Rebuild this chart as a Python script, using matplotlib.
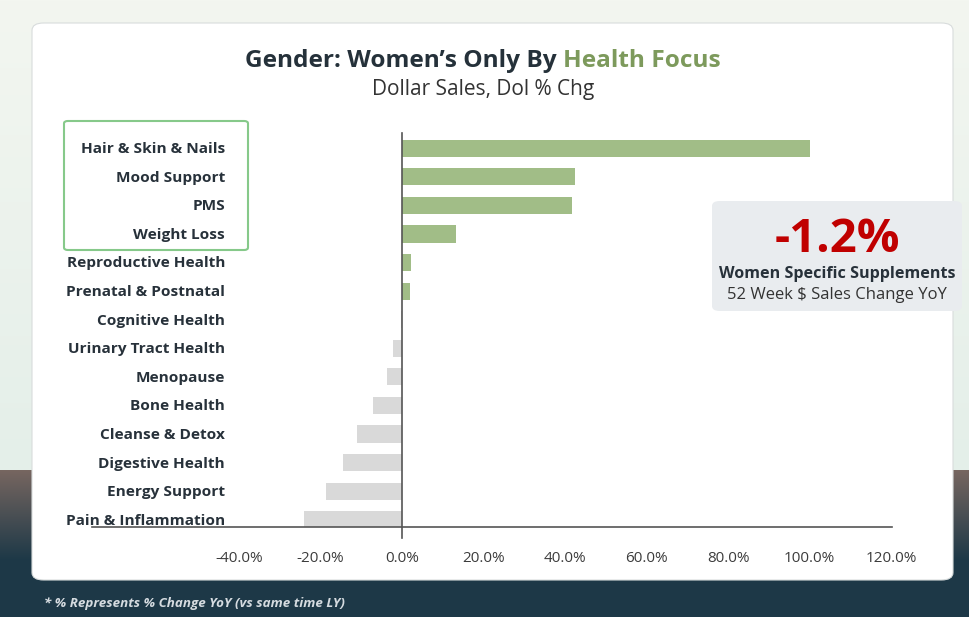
import matplotlib.pyplot as plt
import numpy as np
from matplotlib.patches import FancyBboxPatch

# data
categories = ["Hair & Skin & Nails", "Mood Support", "PMS", "Weight Loss",
              "Reproductive Health", "Prenatal & Postnatal", "Cognitive Health",
              "Urinary Tract Health", "Menopause", "Bone Health",
              "Cleanse & Detox", "Digestive Health", "Energy Support",
              "Pain & Inflammation"]
pct_change = [100.0, 42.5, 41.7, 13.2, 2.2, 2.0, -0.3,
              -2.3, -3.6, -7.2, -11.0, -14.4, -18.7, -24.0]
xticks = [-40, -20, 0, 20, 40, 60, 80, 100, 120]
headline = "-1.2%"

W, H = 969, 617
fx = lambda px: px / W
fy = lambda py: 1 - py / H

plt.rcParams['font.family'] = ['Open Sans', 'DejaVu Sans']
fig = plt.figure(figsize=(W / 100, H / 100), dpi=100)

# page background: light on top, dark band at the bottom
bg = fig.add_axes([0, 0, 1, 1], zorder=-10)
bg.set_axis_off()
grad = np.zeros((H, 1, 3))
top = np.array([0xf3, 0xf6, 0xf0]) / 255
top2 = np.array([0xe4, 0xef, 0xe9]) / 255
dark1 = np.array([0x76, 0x66, 0x60]) / 255
dark2 = np.array([0x1d, 0x38, 0x47]) / 255
split = 470
for r in range(H):
    if r < split:
        t = r / split
        grad[r, 0] = top * (1 - t) + top2 * t
    else:
        t = min(1, (r - split) / 90)
        grad[r, 0] = dark1 * (1 - t) + dark2 * t
bg.imshow(grad, aspect='auto', extent=[0, 1, 0, 1])
bg.set_xlim(0, 1)
bg.set_ylim(0, 1)

# white card
card = FancyBboxPatch((fx(32), fy(580)), fx(953) - fx(32), fy(23) - fy(580),
                      boxstyle="round,pad=0,rounding_size=0.012",
                      transform=fig.transFigure, facecolor='white',
                      edgecolor='#d8dcdc', lw=0.8, zorder=-5)
fig.patches.append(card)

# main chart
xmin, xmax = -76, 120.25
zero_px, per_pct = 402, 4.075
left_px = zero_px + xmin * per_pct
right_px = zero_px + xmax * per_pct
ax = fig.add_axes([fx(left_px), fy(527), fx(right_px) - fx(left_px), fy(133) - fy(527)])
ax.patch.set_alpha(0)
y = np.arange(len(categories))
colors = ['#a1bd87' if v > 0 else '#d9d9d9' for v in pct_change]
ax.barh(y, pct_change, height=0.6, color=colors, zorder=2)
ax.set_xlim(xmin, xmax)
ax.set_ylim(len(categories) - 0.75, -0.53)
for s in ['top', 'right', 'left']:
    ax.spines[s].set_visible(False)
ax.spines['bottom'].set_color('#555555')
ax.spines['bottom'].set_linewidth(1.2)
ax.plot([0, 0], [-0.53, len(categories) - 0.35], color='#555555', lw=1.2,
        clip_on=False, zorder=3)
ax.set_yticks([])
ax.set_xticks(xticks)
ax.set_xticklabels([f"{v:.1f}%" for v in xticks])
ax.tick_params(axis='x', length=0, pad=17, labelsize=11, labelcolor='#3c3c3c')

label_x = (225 - zero_px) / per_pct
for i, name in enumerate(categories):
    ax.text(label_x, i + 0.03, name, ha='right', va='center', fontsize=11.1,
            fontweight='bold', color='#27313a')

# highlight box around the top four labels
hl = FancyBboxPatch((fx(64), fy(250)), fx(248) - fx(64), fy(121) - fy(250),
                    boxstyle="round,pad=0,rounding_size=0.004",
                    transform=fig.transFigure, facecolor='none',
                    edgecolor='#86c98a', lw=1.5, zorder=5)
fig.patches.append(hl)

# title with two colours
fig.canvas.draw()
r = fig.canvas.get_renderer()
t1 = fig.text(0, fy(61), "Gender: Women’s Only By ", fontsize=17.6, fontweight='bold',
              color='#25313a', va='center', ha='left')
t2 = fig.text(0, fy(61), "Health Focus", fontsize=17.6, fontweight='bold',
              color='#7d9a5c', va='center', ha='left')
w1 = t1.get_window_extent(r).width
w2 = t2.get_window_extent(r).width
start = 483 - (w1 + w2) / 2
t1.set_x(fx(start))
t2.set_x(fx(start + w1))
fig.text(fx(483), fy(90), "Dollar Sales, Dol % Chg", fontsize=15, color='#333333',
         ha='center', va='center')

# callout box
cb = FancyBboxPatch((fx(712), fy(311)), fx(962) - fx(712), fy(201) - fy(311),
                    boxstyle="round,pad=0,rounding_size=0.008",
                    transform=fig.transFigure, facecolor='#e9ecef',
                    edgecolor='none', zorder=5)
fig.patches.append(cb)
fig.text(fx(837), fy(240), headline, fontsize=34, fontweight='bold', color='#c00000',
         ha='center', va='center', zorder=6)
fig.text(fx(837), fy(274), "Women Specific Supplements", fontsize=11.6, fontweight='bold',
         color='#27313a', ha='center', va='center', zorder=6)
fig.text(fx(837), fy(295), "52 Week $ Sales Change YoY", fontsize=12,
         color='#333333', ha='center', va='center', zorder=6)

# footnote
fig.text(fx(44), fy(604), "* % Represents % Change YoY (vs same time LY)", fontsize=9.6,
         style='italic', fontweight='bold', color='#d5dbe0', ha='left', va='center')

fig.savefig("out.png", dpi=100)
